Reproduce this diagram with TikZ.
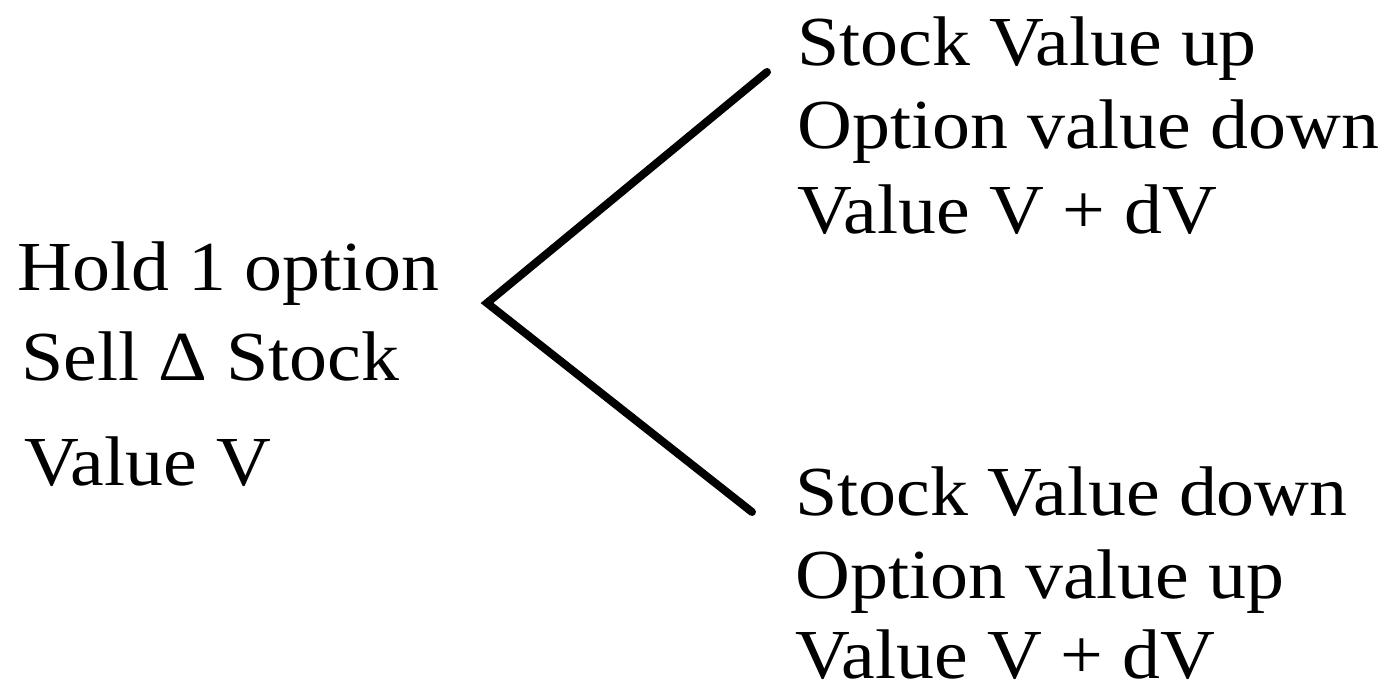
\documentclass[tikz,border=0pt]{standalone}
\usepackage{fontspec}
\setmainfont[FakeStretch=1.08]{Liberation Serif}
\begin{document}
\begin{tikzpicture}[x=0.02cm,y=-0.02cm,
  lbl/.style={anchor=base west,inner sep=0pt,font=\fontsize{40pt}{48pt}\selectfont},
  branch/.style={line width=0.16cm,line cap=round,black}]
\useasboundingbox (0,0) rectangle (1380,691);
% left block
\node[lbl] (l1) at (17,290) {Hold 1 option};
\node[lbl] (l2) at (21,380) {Sell Δ Stock};
\node[lbl] (l3) at (24,485) {Value V};
% upper block
\node[lbl] (u1) at (797,65) {Stock Value up};
\node[lbl] (u2) at (797,148) {Option value down};
\node[lbl] (u3) at (797,233) {Value V + dV};
% lower block
\node[lbl] (d1) at (795,515) {Stock Value down};
\node[lbl] (d2) at (795,598) {Option value up};
\node[lbl] (d3) at (795,678) {Value V + dV};
% branches
\coordinate (root) at (487,303);
\coordinate (upend) at (767,72);
\coordinate (downend) at (752,512);
\draw[branch] (upend) -- (root) -- (downend);
\end{tikzpicture}
\end{document}
